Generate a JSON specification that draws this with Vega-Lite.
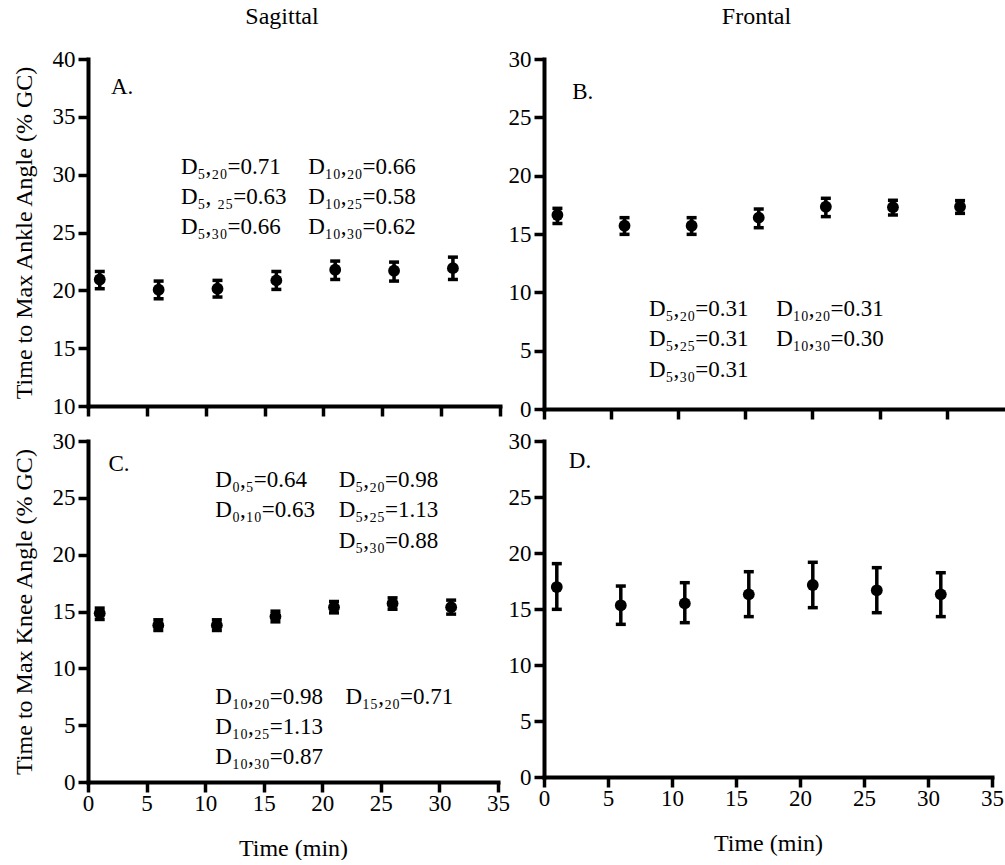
{
  "$schema": "https://vega.github.io/schema/vega-lite/v6.json",
  "padding": {"left": 12, "top": 5, "right": 0, "bottom": 0},
  "background": "white",
  "datasets": {
    "points": [
      {"panel": "A", "time": 1, "mean": 20.94, "lo": 20.14, "hi": 21.63},
      {"panel": "A", "time": 6, "mean": 20.05, "lo": 19.27, "hi": 20.8},
      {"panel": "A", "time": 11, "mean": 20.14, "lo": 19.42, "hi": 20.86},
      {"panel": "A", "time": 16, "mean": 20.86, "lo": 20.08, "hi": 21.63},
      {"panel": "A", "time": 21, "mean": 21.78, "lo": 20.94, "hi": 22.53},
      {"panel": "A", "time": 26, "mean": 21.69, "lo": 20.8, "hi": 22.44},
      {"panel": "A", "time": 31, "mean": 21.92, "lo": 20.94, "hi": 22.87},
      {"panel": "B", "time": 1, "mean": 16.63, "lo": 15.9, "hi": 17.2},
      {"panel": "B", "time": 6, "mean": 15.71, "lo": 14.97, "hi": 16.4},
      {"panel": "B", "time": 11, "mean": 15.71, "lo": 14.97, "hi": 16.4},
      {"panel": "B", "time": 16, "mean": 16.4, "lo": 15.54, "hi": 17.14},
      {"panel": "B", "time": 21, "mean": 17.34, "lo": 16.49, "hi": 18.06},
      {"panel": "B", "time": 26, "mean": 17.29, "lo": 16.63, "hi": 17.89},
      {"panel": "B", "time": 31, "mean": 17.34, "lo": 16.77, "hi": 17.86},
      {"panel": "C", "time": 1, "mean": 14.85, "lo": 14.3, "hi": 15.3},
      {"panel": "C", "time": 6, "mean": 13.8, "lo": 13.33, "hi": 14.27},
      {"panel": "C", "time": 11, "mean": 13.8, "lo": 13.33, "hi": 14.27},
      {"panel": "C", "time": 16, "mean": 14.56, "lo": 14.09, "hi": 15.03},
      {"panel": "C", "time": 21, "mean": 15.38, "lo": 14.88, "hi": 15.88},
      {"panel": "C", "time": 26, "mean": 15.7, "lo": 15.2, "hi": 16.2},
      {"panel": "C", "time": 31, "mean": 15.38, "lo": 14.77, "hi": 16.0},
      {"panel": "D", "time": 1, "mean": 16.96, "lo": 14.97, "hi": 19.05},
      {"panel": "D", "time": 6, "mean": 15.33, "lo": 13.63, "hi": 17.05},
      {"panel": "D", "time": 11, "mean": 15.5, "lo": 13.78, "hi": 17.35},
      {"panel": "D", "time": 16, "mean": 16.31, "lo": 14.32, "hi": 18.33},
      {"panel": "D", "time": 21, "mean": 17.14, "lo": 15.12, "hi": 19.17},
      {"panel": "D", "time": 26, "mean": 16.67, "lo": 14.67, "hi": 18.69},
      {"panel": "D", "time": 31, "mean": 16.31, "lo": 14.32, "hi": 18.24}
    ],
    "notes": [
      {"panel": "A", "x": 1.95, "y": 37.0, "label": "A."},
      {"panel": "A", "x": 7.9, "y": 30.09, "label": "D₅,₂₀=0.71"},
      {"panel": "A", "x": 18.7, "y": 30.09, "label": "D₁₀,₂₀=0.66"},
      {"panel": "A", "x": 7.9, "y": 27.5, "label": "D₅, ₂₅=0.63"},
      {"panel": "A", "x": 18.7, "y": 27.5, "label": "D₁₀,₂₅=0.58"},
      {"panel": "A", "x": 7.9, "y": 24.9, "label": "D₅,₃₀=0.66"},
      {"panel": "A", "x": 18.7, "y": 24.9, "label": "D₁₀,₃₀=0.62"},
      {"panel": "B", "x": 2.1, "y": 26.6, "label": "B."},
      {"panel": "B", "x": 7.82, "y": 8.0, "label": "D₅,₂₀=0.31"},
      {"panel": "B", "x": 17.3, "y": 8.0, "label": "D₁₀,₂₀=0.31"},
      {"panel": "B", "x": 7.82, "y": 5.42, "label": "D₅,₂₅=0.31"},
      {"panel": "B", "x": 17.3, "y": 5.42, "label": "D₁₀,₃₀=0.30"},
      {"panel": "B", "x": 7.82, "y": 2.77, "label": "D₅,₃₀=0.31"},
      {"panel": "C", "x": 1.75, "y": 27.4, "label": "C."},
      {"panel": "C", "x": 10.87, "y": 25.96, "label": "D₀,₅=0.64"},
      {"panel": "C", "x": 21.4, "y": 25.96, "label": "D₅,₂₀=0.98"},
      {"panel": "C", "x": 10.87, "y": 23.33, "label": "D₀,₁₀=0.63"},
      {"panel": "C", "x": 21.4, "y": 23.33, "label": "D₅,₂₅=1.13"},
      {"panel": "C", "x": 21.4, "y": 20.56, "label": "D₅,₃₀=0.88"},
      {"panel": "C", "x": 10.87, "y": 6.82, "label": "D₁₀,₂₀=0.98"},
      {"panel": "C", "x": 21.98, "y": 6.82, "label": "D₁₅,₂₀=0.71"},
      {"panel": "C", "x": 10.87, "y": 4.18, "label": "D₁₀,₂₅=1.13"},
      {"panel": "C", "x": 10.87, "y": 1.55, "label": "D₁₀,₃₀=0.87"},
      {"panel": "D", "x": 1.94, "y": 27.6, "label": "D."}
    ]
  },
  "columns": 2,
  "spacing": {"row": 32, "column": 44},
  "bounds": "flush",
  "align": "each",
  "concat": [
    {
      "width": 412,
      "height": 347,
      "title": {"text": "Sagittal", "frame": "group", "anchor": "middle", "dx": -12, "offset": 19, "fontSize": 24, "fontWeight": "normal", "font": "Liberation Serif", "color": "black"},
      "layer": [
        {
          "data": {"name": "points"},
          "transform": [{"filter": "datum.panel === 'A'"}],
          "mark": {"type": "errorbar", "thickness": 3.5, "opacity": 1, "ticks": {"size": 10, "thickness": 3.5, "color": "black", "opacity": 1}, "rule": {"color": "black", "opacity": 1}, "color": "black"},
          "encoding": {
            "x": {"field": "time", "type": "quantitative", "title": null, "scale": {"domain": [0, 35], "nice": false, "zero": false}, "axis": {"values": [0, 5, 10, 15, 20, 25, 30, 35], "labels": false, "title": null}},
            "y": {"field": "lo", "type": "quantitative", "title": "Time to Max Ankle Angle (% GC)", "scale": {"domain": [10, 40], "nice": false, "zero": false}, "axis": {"values": [10, 15, 20, 25, 30, 35, 40], "title": "Time to Max Ankle Angle (% GC)"}},
            "y2": {"field": "hi"}
          }
        },
        {
          "data": {"name": "points"},
          "transform": [{"filter": "datum.panel === 'A'"}],
          "mark": {"type": "circle", "size": 140, "color": "black", "opacity": 1},
          "encoding": {
            "x": {"field": "time", "type": "quantitative", "title": null, "scale": {"domain": [0, 35], "nice": false, "zero": false}},
            "y": {"field": "mean", "type": "quantitative", "title": "Time to Max Ankle Angle (% GC)", "scale": {"domain": [10, 40], "nice": false, "zero": false}}
          }
        },
        {
          "data": {"name": "notes"},
          "transform": [{"filter": "datum.panel === 'A'"}],
          "mark": {"type": "text", "align": "left", "baseline": "alphabetic", "fontSize": 23, "font": "Liberation Serif", "color": "black"},
          "encoding": {
            "x": {"field": "x", "type": "quantitative", "title": null, "scale": {"domain": [0, 35], "nice": false, "zero": false}},
            "y": {"field": "y", "type": "quantitative", "title": "Time to Max Ankle Angle (% GC)", "scale": {"domain": [10, 40], "nice": false, "zero": false}},
            "text": {"field": "label"}
          }
        }
      ]
    },
    {
      "width": 461,
      "height": 350,
      "title": {"text": "Frontal", "frame": "group", "anchor": "middle", "dx": -18, "offset": 19, "fontSize": 24, "fontWeight": "normal", "font": "Liberation Serif", "color": "black"},
      "layer": [
        {
          "data": {"name": "points"},
          "transform": [{"filter": "datum.panel === 'B'"}],
          "mark": {"type": "errorbar", "thickness": 3.5, "opacity": 1, "ticks": {"size": 10, "thickness": 3.5, "color": "black", "opacity": 1}, "rule": {"color": "black", "opacity": 1}, "color": "black"},
          "encoding": {
            "x": {"field": "time", "type": "quantitative", "title": null, "scale": {"domain": [0, 34.35], "nice": false, "zero": false}, "axis": {"values": [0, 5, 10, 15, 20, 25, 30], "labels": false, "title": null}},
            "y": {"field": "lo", "type": "quantitative", "title": null, "scale": {"domain": [0, 30], "nice": false}, "axis": {"values": [0, 5, 10, 15, 20, 25, 30], "title": null}},
            "y2": {"field": "hi"}
          }
        },
        {
          "data": {"name": "points"},
          "transform": [{"filter": "datum.panel === 'B'"}],
          "mark": {"type": "circle", "size": 140, "color": "black", "opacity": 1},
          "encoding": {
            "x": {"field": "time", "type": "quantitative", "title": null, "scale": {"domain": [0, 34.35], "nice": false, "zero": false}},
            "y": {"field": "mean", "type": "quantitative", "title": null, "scale": {"domain": [0, 30], "nice": false}}
          }
        },
        {
          "data": {"name": "notes"},
          "transform": [{"filter": "datum.panel === 'B'"}],
          "mark": {"type": "text", "align": "left", "baseline": "alphabetic", "fontSize": 23, "font": "Liberation Serif", "color": "black"},
          "encoding": {
            "x": {"field": "x", "type": "quantitative", "title": null, "scale": {"domain": [0, 34.35], "nice": false, "zero": false}},
            "y": {"field": "y", "type": "quantitative", "title": null, "scale": {"domain": [0, 30], "nice": false}},
            "text": {"field": "label"}
          }
        }
      ]
    },
    {
      "width": 410,
      "height": 341,
      "layer": [
        {
          "data": {"name": "points"},
          "transform": [{"filter": "datum.panel === 'C'"}],
          "mark": {"type": "errorbar", "thickness": 3.5, "opacity": 1, "ticks": {"size": 10, "thickness": 3.5, "color": "black", "opacity": 1}, "rule": {"color": "black", "opacity": 1}, "color": "black"},
          "encoding": {
            "x": {"field": "time", "type": "quantitative", "title": "Time (min)", "scale": {"domain": [0, 35], "nice": false, "zero": false}, "axis": {"values": [0, 5, 10, 15, 20, 25, 30, 35], "title": "Time (min)"}},
            "y": {"field": "lo", "type": "quantitative", "title": "Time to Max Knee Angle (% GC)", "scale": {"domain": [0, 30], "nice": false}, "axis": {"values": [0, 5, 10, 15, 20, 25, 30], "title": "Time to Max Knee Angle (% GC)"}},
            "y2": {"field": "hi"}
          }
        },
        {
          "data": {"name": "points"},
          "transform": [{"filter": "datum.panel === 'C'"}],
          "mark": {"type": "circle", "size": 140, "color": "black", "opacity": 1},
          "encoding": {
            "x": {"field": "time", "type": "quantitative", "title": "Time (min)", "scale": {"domain": [0, 35], "nice": false, "zero": false}},
            "y": {"field": "mean", "type": "quantitative", "title": "Time to Max Knee Angle (% GC)", "scale": {"domain": [0, 30], "nice": false}}
          }
        },
        {
          "data": {"name": "notes"},
          "transform": [{"filter": "datum.panel === 'C'"}],
          "mark": {"type": "text", "align": "left", "baseline": "alphabetic", "fontSize": 23, "font": "Liberation Serif", "color": "black"},
          "encoding": {
            "x": {"field": "x", "type": "quantitative", "title": "Time (min)", "scale": {"domain": [0, 35], "nice": false, "zero": false}},
            "y": {"field": "y", "type": "quantitative", "title": "Time to Max Knee Angle (% GC)", "scale": {"domain": [0, 30], "nice": false}},
            "text": {"field": "label"}
          }
        }
      ]
    },
    {
      "width": 448,
      "height": 336,
      "layer": [
        {
          "data": {"name": "points"},
          "transform": [{"filter": "datum.panel === 'D'"}],
          "mark": {"type": "errorbar", "thickness": 3.5, "opacity": 1, "ticks": {"size": 10, "thickness": 3.5, "color": "black", "opacity": 1}, "rule": {"color": "black", "opacity": 1}, "color": "black"},
          "encoding": {
            "x": {"field": "time", "type": "quantitative", "title": "Time (min)", "scale": {"domain": [0, 35], "nice": false, "zero": false}, "axis": {"values": [0, 5, 10, 15, 20, 25, 30, 35], "title": "Time (min)"}},
            "y": {"field": "lo", "type": "quantitative", "title": null, "scale": {"domain": [0, 30], "nice": false}, "axis": {"values": [0, 5, 10, 15, 20, 25, 30], "title": null}},
            "y2": {"field": "hi"}
          }
        },
        {
          "data": {"name": "points"},
          "transform": [{"filter": "datum.panel === 'D'"}],
          "mark": {"type": "circle", "size": 140, "color": "black", "opacity": 1},
          "encoding": {
            "x": {"field": "time", "type": "quantitative", "title": "Time (min)", "scale": {"domain": [0, 35], "nice": false, "zero": false}},
            "y": {"field": "mean", "type": "quantitative", "title": null, "scale": {"domain": [0, 30], "nice": false}}
          }
        },
        {
          "data": {"name": "notes"},
          "transform": [{"filter": "datum.panel === 'D'"}],
          "mark": {"type": "text", "align": "left", "baseline": "alphabetic", "fontSize": 23, "font": "Liberation Serif", "color": "black"},
          "encoding": {
            "x": {"field": "x", "type": "quantitative", "title": "Time (min)", "scale": {"domain": [0, 35], "nice": false, "zero": false}},
            "y": {"field": "y", "type": "quantitative", "title": null, "scale": {"domain": [0, 30], "nice": false}},
            "text": {"field": "label"}
          }
        }
      ]
    }
  ],
  "config": {
    "font": "Liberation Serif",
    "view": {"stroke": null},
    "axis": {
      "grid": false,
      "domainColor": "black",
      "domainWidth": 4,
      "domainCap": "square",
      "tickColor": "black",
      "tickWidth": 3.5,
      "tickSize": 10,
      "labelFont": "Liberation Serif",
      "labelFontSize": 23,
      "labelColor": "black",
      "titleFont": "Liberation Serif",
      "titleFontSize": 24,
      "titleFontWeight": "normal",
      "titleColor": "black"
    },
    "axisX": {"labelPadding": 0, "titlePadding": 21, "labelAngle": 0, "labelFlush": false},
    "axisY": {"labelPadding": 3, "titlePadding": 16}
  }
}
